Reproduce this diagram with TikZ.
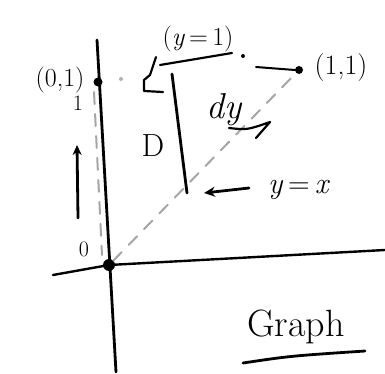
\documentclass[tikz,border=0pt]{standalone}
\usepackage{fontspec}
\usetikzlibrary{arrows.meta}
\begin{document}
\begin{tikzpicture}[x=1pt,y=-1pt,
  ink/.style={line width=2.8pt,black,line cap=round,line join=round},
  faint/.style={line width=2pt,black!35,dash pattern=on 12pt off 10pt,line cap=round},
  dotpt/.style={circle,fill=black,inner sep=0pt,minimum size=#1},
  lab/.style={inner sep=0pt,font=\fontsize{26}{28}\selectfont}]
\useasboundingbox (0,0) rectangle (385,374);
% points
\coordinate (ytop) at (97,40);
\coordinate (ybot) at (116,372);
\coordinate (xl) at (53,275);
\coordinate (xr) at (385,250);
\node[dotpt=12pt] (O) at (109,265) {};
\node[dotpt=9pt] (P01) at (98,82) {};
\node[dotpt=8pt] (P11) at (299,70) {};
% axes
\draw[ink] (ytop) -- (ybot);
\draw[ink,line width=2.4pt] (xl) -- (O.center) -- (xr);
% dashed guide lines
\coordinate (v1) at (94,92);
\coordinate (v2) at (102,255);
\draw[faint] (v1) -- (v2);
\draw[faint] (O.north east) -- (P11.south west);
\node[circle,fill=black!30,inner sep=0pt,minimum size=4pt] (g1) at (121,79) {};
\coordinate (h1) at (256,67);
\draw[ink,line width=2pt] (h1) -- (P11.west);
% vertical strip line
\coordinate (s1) at (172,74);
\coordinate (s2) at (187,193);
\draw[ink] (s1) -- (s2);
% hook
\coordinate (k1) at (156,57);
\coordinate (k2) at (150,75);
\coordinate (k3) at (144,80);
\coordinate (k4) at (144,91);
\coordinate (k5) at (163,92);
\draw[ink,line width=2.2pt] (k1) -- (k2) -- (k3) -- (k4) -- (k5);
% labels
\node[lab] (l01) at (60,80) {(0,1)};
\node[lab,font=\fontsize{28}{30}\selectfont] (l11) at (341,68) {(1,1)};
\node[lab] (ly1) at (198,39) {(\textit{y}\,=\,1)};
\coordinate (u1) at (160,65);
\coordinate (u2) at (232,53);
\draw[ink,line width=2.2pt] (u1) -- (u2);
\node[circle,fill=black,inner sep=0pt,minimum size=4pt] (ud) at (243,56) {};
\node[lab,font=\fontsize{36}{38}\selectfont\itshape] (ldy) at (224,110) {dy};
\coordinate (t1) at (229,128);
\coordinate (t2) at (270,122);
\coordinate (t3) at (256,138);
\draw[ink,line width=2.2pt] (t1) .. controls (247,130) .. (t2) -- (t3);
\node[lab,font=\fontsize{32}{34}\selectfont] (lD) at (153,146) {D};
\node[lab,font=\fontsize{22}{24}\selectfont] (l1) at (78,103) {1};
\coordinate (a1) at (78,218);
\coordinate (a2) at (77,145);
\draw[ink,-{Stealth[length=10pt,width=9pt]}] (a1) -- (a2);
\node[lab,font=\fontsize{22}{24}\selectfont] (l0) at (84,249) {0};
\node[lab,font=\fontsize{30}{32}\selectfont] (lyx) at (299,190) {\textit{y}\,=\,\textit{x}};
\coordinate (b1) at (249,188);
\coordinate (b2) at (204,193);
\draw[ink,-{Stealth[length=11pt,width=10pt]}] (b1) -- (b2);
\node[lab,font=\fontsize{38}{40}\selectfont] (lg) at (296,327) {Graph};
\coordinate (g2a) at (243,363);
\coordinate (g2b) at (365,351);
\draw[ink,line width=2.8pt] (g2a) .. controls (290,356) .. (g2b);
\end{tikzpicture}
\end{document}
